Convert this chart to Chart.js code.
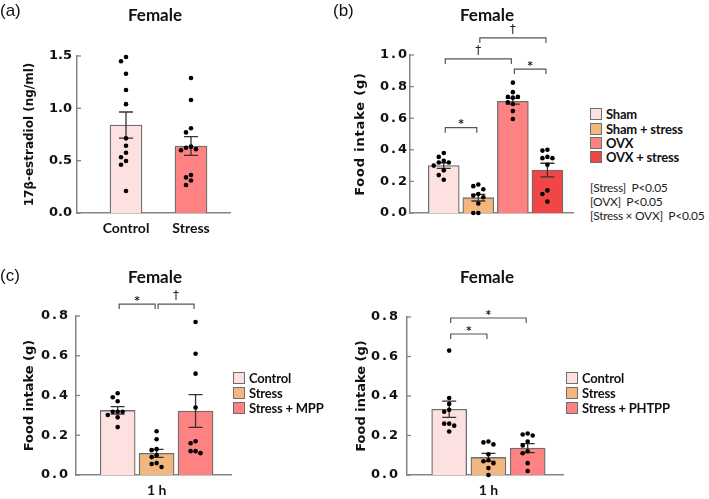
<!DOCTYPE html>
<html>
<head>
<meta charset="utf-8">
<script src="https://cdn.jsdelivr.net/npm/chart.js@4.4.1/dist/chart.umd.min.js"></script>
<style>
  body { margin: 0; background: #fff; width: 709px; height: 499px; position: relative; overflow: hidden; }
  canvas, .txt { position: absolute; }
  .letter { font: 17px 'Liberation Sans', Arial, sans-serif; color: #111; line-height: 20px; }
  .title { font: bold 17px Lato, sans-serif; color: #111; line-height: 20px; transform: translateX(-50%); white-space: nowrap; }
  .legend { font: bold 13px Lato, sans-serif; color: #111; letter-spacing: -0.2px; }
  .legend .row { display: flex; align-items: center; white-space: nowrap; }
  .legend .box { width: 10px; height: 10px; border: 1px solid #6e6e6e; margin-right: 4px; }
  .stats { font: 12px Lato, sans-serif; color: #222; white-space: nowrap; letter-spacing: -0.3px; }
</style>
</head>
<body>
<script>
// ---- (a) 17b-estradiol
const groupsA = ['Control', 'Stress'];
const meanA = [0.84, 0.64];
const semA = [0.125, 0.09];
const dotsA = [
  [1.49, 1.45, 1.33, 1.175, 1.04, 0.713, 0.643, 0.576, 0.532, 0.497, 0.461, 0.21],
  [1.29, 1.08, 0.81, 0.77, 0.634, 0.624, 0.61, 0.60, 0.363, 0.34, 0.31, 0.267]
];

// ---- (b) food intake, sham / OVX
const groupsB = ['Sham', 'Sham + stress', 'OVX', 'OVX + stress'];
const meanB = [0.30, 0.097, 0.707, 0.272];
const semB = [0.018, 0.021, 0.018, 0.043];
const dotsB = [
  [0.38, 0.355, 0.33, 0.32, 0.32, 0.30, 0.27, 0.24, 0.21],
  [0.18, 0.17, 0.15, 0.12, 0.11, 0.10, 0.06, 0.0, 0.0],
  [0.825, 0.765, 0.735, 0.735, 0.73, 0.70, 0.69, 0.645, 0.595],
  [0.40, 0.395, 0.355, 0.347, 0.347, 0.305, 0.143, 0.12, 0.072]
];
const bracketsB = [[0, 1, 0.54, '*'], [0, 2, 0.975, '†'], [1, 3, 1.108, '†'], [2, 3, 0.911, '*']];
const statsB = ['[Stress]  P<0.05', '[OVX]  P<0.05', '[Stress × OVX]  P<0.05'];

// ---- (c) left, MPP
const groupsC = ['Control', 'Stress', 'Stress + MPP'];
const meanC = [0.325, 0.109, 0.322];
const semC = [0.019, 0.02, 0.082];
const dotsC = [
  [0.411, 0.391, 0.371, 0.318, 0.318, 0.318, 0.302, 0.29, 0.241],
  [0.22, 0.18, 0.13, 0.125, 0.10, 0.09, 0.06, 0.055, 0.04],
  [0.77, 0.61, 0.51, 0.34, 0.17, 0.16, 0.12, 0.12, 0.11]
];
const bracketsC = [[0, 1, 0.86, '*'], [1, 2, 0.86, '†']];

// ---- (c) right, PHTPP
const groupsD = ['Control', 'Stress', 'Stress + PHTPP'];
const meanD = [0.333, 0.089, 0.136];
const semD = [0.041, 0.02, 0.023];
const dotsD = [
  [0.63, 0.39, 0.36, 0.33, 0.32, 0.26, 0.26, 0.25, 0.22],
  [0.17, 0.165, 0.155, 0.105, 0.075, 0.07, 0.06, 0.035, 0.0],
  [0.21, 0.205, 0.2, 0.17, 0.15, 0.12, 0.11, 0.06, 0.02]
];
const bracketsD = [[0, 1, 0.714, '*'], [0, 2, 0.795, '*']];

const timeLabel = '1 h';

const pink = '#fde0e0', tan = '#f2b77e', salmon = '#ff8282', red = '#f24646';

// spread dots sideways when they would overlap (simple beeswarm, px space)
function swarm(vals, yPx, xPx) {
  const placed = [];
  return vals.map(v => {
    const y = v * yPx;
    let off = 0;
    for (let k = 0; k < 15; k++) {
      const c = k === 0 ? 0 : (k % 2 ? -1 : 1) * Math.ceil(k / 2) * 5;
      if (placed.every(p => Math.hypot(p.x - c, p.y - y) >= 5)) { off = c; break; }
    }
    placed.push({x: off, y: y});
    return off / xPx;
  });
}

function text(str, cls, x, y) {
  const d = document.createElement('div');
  d.className = 'txt ' + cls;
  d.textContent = str;
  d.style.left = x + 'px';
  d.style.top = y + 'px';
  document.body.appendChild(d);
}

function legend(x, y, names, colors, rowH) {
  const d = document.createElement('div');
  d.className = 'txt legend';
  d.style.left = x + 'px';
  d.style.top = y + 'px';
  names.forEach((n, i) => {
    const r = document.createElement('div');
    r.className = 'row';
    r.style.height = rowH + 'px';
    const b = document.createElement('div');
    b.className = 'box';
    b.style.background = colors[i];
    r.appendChild(b);
    r.appendChild(document.createTextNode(n));
    d.appendChild(r);
  });
  document.body.appendChild(d);
}

function panel(p) {
  const cv = document.createElement('canvas');
  cv.width = p.box.w;
  cv.height = p.box.h;
  cv.style.left = p.box.x + 'px';
  cv.style.top = p.box.y + 'px';
  document.body.appendChild(cv);

  const yPx = (p.area.bottom - p.area.top) / p.yMax;
  const xPx = (p.area.right - p.area.left) / (p.xMax - p.xMin);
  const pts = [];
  p.dots.forEach((vals, g) => {
    swarm(vals, yPx, xPx).forEach((off, k) => pts.push({x: g + off, y: vals[k]}));
  });

  const errorBars = {
    id: 'errorBars',
    afterDatasetDraw(chart, args) {
      if (args.index !== 0) return;
      const {ctx, scales: {x, y}} = chart;
      ctx.save();
      ctx.strokeStyle = '#333';
      ctx.lineWidth = 1.3;
      p.means.forEach((m, i) => {
        const cx = x.getPixelForValue(i);
        const hi = y.getPixelForValue(m + p.sems[i]);
        const lo = y.getPixelForValue(m - p.sems[i]);
        ctx.beginPath();
        ctx.moveTo(cx, hi); ctx.lineTo(cx, lo);
        ctx.moveTo(cx - 7, hi); ctx.lineTo(cx + 7, hi);
        ctx.moveTo(cx - 7, lo); ctx.lineTo(cx + 7, lo);
        ctx.stroke();
      });
      ctx.restore();
    }
  };

  const brackets = {
    id: 'brackets',
    afterDraw(chart) {
      const {ctx, chartArea, scales: {x, y}} = chart;
      ctx.save();
      // short inward tick marks on the y axis
      ctx.strokeStyle = '#858585';
      ctx.lineWidth = 1.3;
      y.ticks.forEach(t => {
        const ty = y.getPixelForValue(t.value);
        ctx.beginPath();
        ctx.moveTo(chartArea.left, ty); ctx.lineTo(chartArea.left + 4, ty);
        ctx.stroke();
      });
      ctx.strokeStyle = '#555';
      ctx.fillStyle = '#222';
      ctx.lineWidth = 1.2;
      ctx.textAlign = 'center';
      ctx.textBaseline = 'middle';
      (p.brackets || []).forEach(([a, b, v, mark]) => {
        const x1 = x.getPixelForValue(a) + 1.5, x2 = x.getPixelForValue(b) - 1.5;
        const yy = y.getPixelForValue(v);
        ctx.beginPath();
        ctx.moveTo(x1, yy + 5); ctx.lineTo(x1, yy); ctx.lineTo(x2, yy); ctx.lineTo(x2, yy + 5);
        ctx.stroke();
        if (mark === '*') {
          ctx.font = 'bold 10px "DejaVu Sans"';
          ctx.fillText(mark, (x1 + x2) / 2, yy - 3);
        } else {
          ctx.font = '12px "DejaVu Sans"';
          ctx.fillText(mark, (x1 + x2) / 2, yy - 8);
        }
      });
      ctx.restore();
    }
  };

  // wider tracking on tick labels / axis title, as in the figure
  const tracking = {
    id: 'tracking',
    beforeDraw(chart) {
      const s = chart.scales.y;
      if (s._tracked) return;
      const ctx = chart.ctx;
      const lab = s.drawLabels.bind(s), tit = s.drawTitle.bind(s);
      s.drawLabels = a => { ctx.save(); ctx.letterSpacing = p.tickSpacing; lab(a); ctx.restore(); };
      s.drawTitle = a => { ctx.save(); ctx.letterSpacing = p.titleSpacing; tit(a); ctx.restore(); };
      s._tracked = true;
    }
  };

  return new Chart(cv, {
    type: 'bar',
    data: {
      datasets: [{
        data: p.means.map((m, i) => ({x: i, y: m})),
        backgroundColor: p.colors,
        borderColor: '#6e6e6e',
        borderWidth: 1.3,
        barThickness: p.barW,
        order: 1
      }, {
        type: 'scatter',
        data: pts,
        pointRadius: 2.3,
        pointBackgroundColor: '#000',
        pointBorderWidth: 0,
        clip: false,
        order: 0
      }]
    },
    options: {
      responsive: false,
      animation: false,
      events: [],
      layout: {padding: {left: 0, bottom: 0, top: p.area.top - p.box.y, right: p.box.x + p.box.w - p.area.right}},
      plugins: {legend: {display: false}, tooltip: {enabled: false}},
      scales: {
        x: {
          type: 'linear', min: p.xMin, max: p.xMax, offset: false,
          grid: {display: false, drawTicks: false},
          border: {color: '#858585', width: 1.5},
          afterBuildTicks: s => { s.ticks = p.xTicks.map(t => ({value: t[0]})); },
          afterFit: s => { s.height = p.box.y + p.box.h - p.area.bottom; },
          ticks: {
            display: p.xTicks.length > 0,
            autoSkip: false, maxRotation: 0, padding: 7, color: '#111',
            font: {family: 'Lato', weight: 'bold', size: 14},
            callback: v => (p.xTicks.find(t => t[0] === v) || [0, ''])[1]
          }
        },
        y: {
          min: 0, max: p.yMax,
          grid: {display: false, drawTicks: false},
          border: {color: '#858585', width: 1.5},
          afterFit: s => { s.width = p.area.left - p.box.x; },
          ticks: {
            stepSize: p.step, padding: p.tickPad, color: '#111',
            font: {family: 'DejaVu Sans', weight: 'bold', size: 13},
            callback: v => v.toFixed(1)
          },
          title: {
            display: true, text: p.yTitle, color: '#111',
            font: {family: 'DejaVu Sans', weight: 'bold', size: p.titleSize},
            padding: {top: p.titlePad, bottom: 0}
          }
        }
      }
    },
    plugins: [errorBars, brackets, tracking]
  });
}

panel({
  box: {x: 0, y: 0, w: 240, h: 250}, area: {left: 77, top: 56, right: 230, bottom: 213},
  xMin: -0.754, xMax: 1.6, yMax: 1.5, step: 0.5, barW: 32,
  means: meanA, sems: semA, dots: dotsA, colors: [pink, salmon],
  xTicks: groupsA.map((g, i) => [i, g]),
  yTitle: '17β-estradiol (ng/ml)', titleSize: 12, titlePad: 23, tickPad: 5,
  tickSpacing: '0px', titleSpacing: '0px'
});

panel({
  box: {x: 340, y: 0, w: 245, h: 250}, area: {left: 410, top: 55, right: 573, bottom: 213},
  xMin: -0.977, xMax: 3.74, yMax: 1.0, step: 0.2, barW: 31,
  means: meanB, sems: semB, dots: dotsB, colors: [pink, tan, salmon, red],
  xTicks: [], brackets: bracketsB,
  yTitle: 'Food intake (g)', titleSize: 13, titlePad: 13, tickPad: 1,
  tickSpacing: '2px', titleSpacing: '0.8px'
});

panel({
  box: {x: 0, y: 250, w: 235, h: 249}, area: {left: 76, top: 316, right: 233, bottom: 475},
  xMin: -1.07, xMax: 2.91, yMax: 0.8, step: 0.2, barW: 35,
  means: meanC, sems: semC, dots: dotsC, colors: [pink, tan, salmon],
  xTicks: [[1, timeLabel]], brackets: bracketsC,
  yTitle: 'Food intake (g)', titleSize: 13, titlePad: 22, tickPad: 6,
  tickSpacing: '2px', titleSpacing: '0px'
});

panel({
  box: {x: 340, y: 250, w: 228, h: 249}, area: {left: 407, top: 317, right: 563, bottom: 475},
  xMin: -1.075, xMax: 2.9, yMax: 0.8, step: 0.2, barW: 35,
  means: meanD, sems: semD, dots: dotsD, colors: [pink, tan, salmon],
  xTicks: [[1, timeLabel]], brackets: bracketsD,
  yTitle: 'Food intake (g)', titleSize: 13, titlePad: 14, tickPad: 7,
  tickSpacing: '2px', titleSpacing: '0px'
});

text('(a)', 'letter', 0, 1);
text('(b)', 'letter', 333, 1);
text('(c)', 'letter', 0, 266);
text('Female', 'title', 155, 5);
text('Female', 'title', 487, 5);
text('Female', 'title', 155, 267);
text('Female', 'title', 487, 267);

legend(590, 107, groupsB, [pink, tan, salmon, red], 14.4);
legend(233, 370.5, groupsC, [pink, tan, salmon], 15);
legend(566, 370.5, groupsD, [pink, tan, salmon], 15);

const st = document.createElement('div');
st.className = 'txt stats';
st.style.left = '590px';
st.style.top = '181px';
st.style.lineHeight = '14px';
st.innerHTML = statsB.map(s => s.replace(/ {2}/g, '&nbsp;&nbsp;')).join('<br>');
document.body.appendChild(st);
</script>
</body>
</html>
